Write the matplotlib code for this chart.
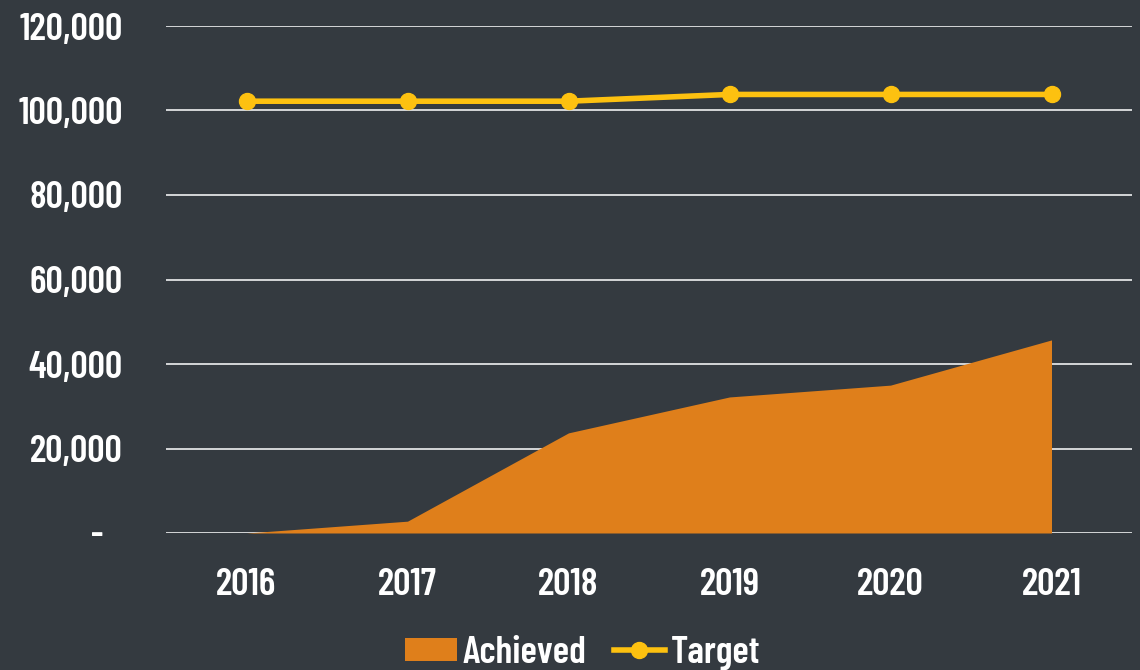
import matplotlib
matplotlib.use("Agg")
import matplotlib.pyplot as plt
from matplotlib.ticker import FuncFormatter
from matplotlib.patches import Patch
from matplotlib.lines import Line2D

years = ["2016", "2017", "2018", "2019", "2020", "2021"]
achieved = [0, 2800, 23700, 32200, 35000, 45700]
target = [102200, 102200, 102200, 103800, 103800, 103800]

BG = "#343a40"
ORANGE = "#df7f1b"
YELLOW = "#fdc110"
GRID = "#d4d6d8"

plt.rcParams["font.family"] = ["Barlow Condensed", "DejaVu Sans"]
FS = 27.5
W = 600

fig = plt.figure(figsize=(11.4, 6.7), dpi=100, facecolor=BG)
ax = fig.add_axes([166/1140, 1-533/670, (1132-166)/1140, (533-26)/670])
ax.set_facecolor(BG)

x = [i + 0.5 for i in range(len(years))]
ax.fill_between(x, achieved, 0, color=ORANGE, linewidth=0, zorder=2)
ax.plot(x, target, color=YELLOW, lw=4, marker="o", ms=11.5, zorder=3, solid_capstyle="round")

ax.set_xlim(0, 6)
ax.set_ylim(0, 120000)
ax.set_yticks(range(0, 120001, 20000))
ax.yaxis.set_major_formatter(FuncFormatter(lambda v, p: "-\u2002" if v == 0 else f"{int(v):,}"))
ax.set_xticks(x)
ax.set_xticklabels(years)
ax.grid(axis="y", color=GRID, lw=1.4, zorder=1)
ax.set_axisbelow(True)
for s in ax.spines.values():
    s.set_visible(False)
ax.tick_params(axis="both", length=0, colors="white", labelsize=FS)
ax.tick_params(axis="y", pad=31)
ax.tick_params(axis="x", pad=25)
for lab in ax.get_xticklabels() + ax.get_yticklabels():
    lab.set_fontweight(W)

handles = [Patch(facecolor=ORANGE, edgecolor="none", label="Achieved"),
           Line2D([0], [0], color=YELLOW, lw=4, marker="o", ms=11.5, label="Target")]
leg = fig.legend(handles=handles, loc="center", bbox_to_anchor=(583/1140, 1-653/670), ncol=2,
                 frameon=False, handlelength=1.35, handleheight=0.55, handletextpad=0.16,
                 columnspacing=0.7, borderpad=0, labelcolor="white",
                 prop={"weight": W, "size": FS, "family": ["Barlow Condensed", "DejaVu Sans"]})

fig.savefig("out.png", dpi=100, facecolor=BG)
